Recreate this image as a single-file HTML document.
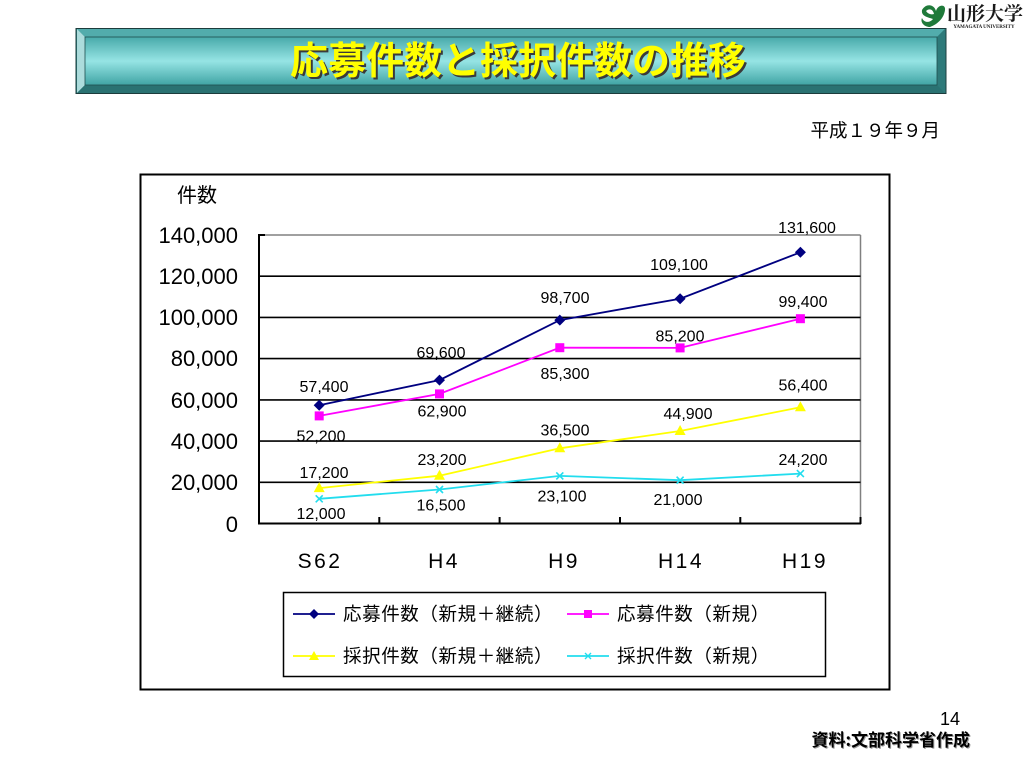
<!DOCTYPE html>
<html><head><meta charset="utf-8"><style>
html,body{margin:0;padding:0;background:#fff;}
svg{display:block;}
text{font-family:"Liberation Sans","Noto Sans CJK JP",sans-serif;}
</style></head><body>
<svg width="1024" height="768" viewBox="0 0 1024 768" xmlns="http://www.w3.org/2000/svg">
<defs>
<linearGradient id="tg" x1="0" y1="0" x2="0" y2="1">
<stop offset="0" stop-color="#48aaaa"/>
<stop offset="0.5" stop-color="#96e4e4"/>
<stop offset="1" stop-color="#40a4a4"/>
</linearGradient>
</defs>
<rect width="1024" height="768" fill="#fff"/>

<!-- logo -->
<path d="M922 10 C926 3 934 4 936 11 C938 4 946 4 945 10 C944 18 938 24 930 27 C924 27 920 22 922 18 C924 23 930 23 933 19 C927 17 921 16 922 10 Z" fill="#1f7a3a"/>
<path d="M926 11 C929 8 933 9 934 14 C931 15 928 14 926 11 Z" fill="#fff"/>
<text x="985" y="20" font-size="19" font-weight="bold" text-anchor="middle" fill="#1a1a1a" style="font-family:'Noto Serif CJK SC','Liberation Serif',serif">山形大学</text>
<text x="984" y="28" font-size="5" font-weight="bold" text-anchor="middle" fill="#1a1a1a" style="font-family:'Liberation Serif',serif">YAMAGATA UNIVERSITY</text>

<!-- title bar -->
<rect x="76" y="28.5" width="870" height="65" fill="#2f7f7f" stroke="#1c3c3c" stroke-width="1"/>
<polygon points="77,29 945,29 937,37 85,37" fill="#52acac"/>
<polygon points="77,29 85,37 85,85 77,93" fill="#acdcdc"/>
<polygon points="945,29 945,93 937,85 937,37" fill="#2e7a7a"/>
<polygon points="77,93 85,85 937,85 945,93" fill="#2a7272"/>
<rect x="85" y="37" width="852" height="48" fill="url(#tg)" stroke="#1f4f4f" stroke-width="0.8"/>
<text x="520" y="76" font-size="38" font-weight="bold" text-anchor="middle" fill="#3a3a3a" style="font-family:'Noto Sans CJK JP',sans-serif">応募件数と採択件数の推移</text>
<text x="518" y="74" font-size="38" font-weight="bold" text-anchor="middle" fill="#ffff00" style="font-family:'Noto Sans CJK JP',sans-serif">応募件数と採択件数の推移</text>

<text x="940" y="137" font-size="18.5" text-anchor="end" fill="#000" style="font-family:'Noto Sans CJK JP',sans-serif">平成１９年９月</text>

<!-- chart frame -->
<rect x="140.5" y="174.5" width="749" height="515" fill="#fff" stroke="#000" stroke-width="2"/>

<text x="197" y="202" font-size="20" text-anchor="middle" fill="#000" style="font-family:'Noto Sans CJK JP',sans-serif">件数</text>

<!-- plot area -->
<rect x="259" y="235" width="601" height="289" fill="#fff"/>
<line x1="259" y1="235" x2="860.5" y2="235" stroke="#808080" stroke-width="1.5"/>
<line x1="860.5" y1="235" x2="860.5" y2="524" stroke="#808080" stroke-width="1.5"/>
<g stroke="#000" stroke-width="1.6">
<line x1="259" y1="276.2" x2="860.5" y2="276.2"/>
<line x1="259" y1="317.4" x2="860.5" y2="317.4"/>
<line x1="259" y1="358.6" x2="860.5" y2="358.6"/>
<line x1="259" y1="399.9" x2="860.5" y2="399.9"/>
<line x1="259" y1="441.1" x2="860.5" y2="441.1"/>
<line x1="259" y1="482.3" x2="860.5" y2="482.3"/>
</g>
<g stroke="#000" stroke-width="2">
<line x1="259" y1="234" x2="259" y2="524.5"/>
<line x1="258" y1="523.5" x2="861" y2="523.5"/>
<line x1="259" y1="235" x2="265" y2="235"/>
<line x1="379.3" y1="517" x2="379.3" y2="524"/>
<line x1="499.6" y1="517" x2="499.6" y2="524"/>
<line x1="620" y1="517" x2="620" y2="524"/>
<line x1="740.3" y1="517" x2="740.3" y2="524"/>
<line x1="860.5" y1="517" x2="860.5" y2="524"/>
</g>

<!-- y labels -->
<g font-size="22" text-anchor="end" fill="#000">
<text x="238" y="243">140,000</text>
<text x="238" y="284">120,000</text>
<text x="238" y="325">100,000</text>
<text x="238" y="366">80,000</text>
<text x="238" y="408">60,000</text>
<text x="238" y="449">40,000</text>
<text x="238" y="490">20,000</text>
<text x="238" y="532">0</text>
</g>

<!-- x labels -->
<g font-size="21" text-anchor="middle" fill="#000" letter-spacing="2.5">
<text x="320" y="568">S62</text>
<text x="444" y="568">H4</text>
<text x="564" y="568">H9</text>
<text x="681" y="568">H14</text>
<text x="805" y="568">H19</text>
</g>

<!-- series lines -->
<g fill="none" stroke-width="1.8">
<polyline stroke="#000080" points="319.2,405.2 439.5,380.1 559.8,320.1 680.1,298.7 800.4,252.3"/>
<polyline stroke="#ff00ff" points="319.2,415.9 439.5,393.9 559.8,347.7 680.1,347.9 800.4,318.7"/>
<polyline stroke="#ffff00" points="319.2,488.1 439.5,475.7 559.8,448.3 680.1,431 800.4,407.3"/>
<polyline stroke="#22ddee" points="319.2,498.8 439.5,489.5 559.8,475.9 680.1,480.2 800.4,473.6"/>
</g>

<!-- markers -->
<g fill="#000080">
<polygon points="319.2,399.7 324.7,405.2 319.2,410.7 313.7,405.2"/>
<polygon points="439.5,374.6 445,380.1 439.5,385.6 434,380.1"/>
<polygon points="559.8,314.6 565.3,320.1 559.8,325.6 554.3,320.1"/>
<polygon points="680.1,293.2 685.6,298.7 680.1,304.2 674.6,298.7"/>
<polygon points="800.4,246.8 805.9,252.3 800.4,257.8 794.9,252.3"/>
</g>
<g fill="#ff00ff">
<rect x="314.7" y="411.4" width="9" height="9"/>
<rect x="435" y="389.4" width="9" height="9"/>
<rect x="555.3" y="343.2" width="9" height="9"/>
<rect x="675.6" y="343.4" width="9" height="9"/>
<rect x="795.9" y="314.2" width="9" height="9"/>
</g>
<g fill="#ffff00">
<polygon points="319.2,482.1 324.7,492.1 313.7,492.1"/>
<polygon points="439.5,469.7 445,479.7 434,479.7"/>
<polygon points="559.8,442.3 565.3,452.3 554.3,452.3"/>
<polygon points="680.1,425 685.6,435 674.6,435"/>
<polygon points="800.4,401.3 805.9,411.3 794.9,411.3"/>
</g>
<g stroke="#22ddee" stroke-width="1.6">
<path d="M315.7 495.3 L322.7 502.3 M322.7 495.3 L315.7 502.3"/>
<path d="M436 486 L443 493 M443 486 L436 493"/>
<path d="M556.3 472.4 L563.3 479.4 M563.3 472.4 L556.3 479.4"/>
<path d="M676.6 476.7 L683.6 483.7 M683.6 476.7 L676.6 483.7"/>
<path d="M796.9 470.1 L803.9 477.1 M803.9 470.1 L796.9 477.1"/>
</g>

<!-- data labels -->
<g font-size="16" text-anchor="middle" fill="#000">
<text x="324" y="392">57,400</text>
<text x="441" y="358">69,600</text>
<text x="565" y="303">98,700</text>
<text x="679" y="270">109,100</text>
<text x="807" y="233">131,600</text>

<text x="321" y="441.5">52,200</text>
<text x="442" y="416.5">62,900</text>
<text x="565" y="379">85,300</text>
<text x="680" y="341.5">85,200</text>
<text x="803" y="307">99,400</text>

<text x="324" y="478">17,200</text>
<text x="442" y="465">23,200</text>
<text x="565" y="435.5">36,500</text>
<text x="688" y="419">44,900</text>
<text x="803" y="390.5">56,400</text>

<text x="321" y="519">12,000</text>
<text x="441" y="510.5">16,500</text>
<text x="562" y="501.5">23,100</text>
<text x="678" y="505">21,000</text>
<text x="803" y="465">24,200</text>
</g>

<!-- legend -->
<rect x="283.5" y="592.5" width="542" height="84" fill="#fff" stroke="#000" stroke-width="1.5"/>
<line x1="293" y1="614" x2="335" y2="614" stroke="#000080" stroke-width="1.8"/>
<polygon points="314,609 319,614 314,619 309,614" fill="#000080"/>
<line x1="567" y1="614" x2="609" y2="614" stroke="#ff00ff" stroke-width="1.8"/>
<rect x="584" y="610" width="8" height="8" fill="#ff00ff"/>
<line x1="293" y1="656" x2="335" y2="656" stroke="#ffff00" stroke-width="1.8"/>
<polygon points="314,651 319,660 309,660" fill="#ffff00"/>
<line x1="567" y1="656" x2="609" y2="656" stroke="#22ddee" stroke-width="1.8"/>
<path d="M585 653 L591 659 M591 653 L585 659" stroke="#22ddee" stroke-width="1.4"/>
<g font-size="18.5" fill="#000" letter-spacing="0.6" style="font-family:'Noto Sans CJK JP',sans-serif">
<text x="343" y="620.5">応募件数（新規＋継続）</text>
<text x="617" y="620.5">応募件数（新規）</text>
<text x="343" y="662.5">採択件数（新規＋継続）</text>
<text x="617" y="662.5">採択件数（新規）</text>
</g>

<!-- footer -->
<text x="960" y="725" font-size="18" text-anchor="end" fill="#000">14</text>
<text x="971" y="747" font-size="17" font-weight="bold" text-anchor="end" fill="#999" style="font-family:'Noto Sans CJK JP',sans-serif">資料:文部科学省作成</text>
<text x="970" y="746" font-size="17" font-weight="bold" text-anchor="end" fill="#000" style="font-family:'Noto Sans CJK JP',sans-serif">資料:文部科学省作成</text>
</svg>
</body></html>
